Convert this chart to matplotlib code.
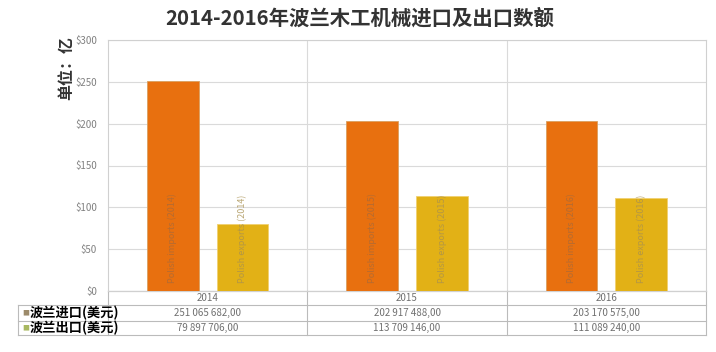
import numpy as np
import matplotlib.pyplot as plt
import matplotlib.transforms as mtransforms

plt.rcParams['font.family'] = ['Noto Sans CJK SC', 'DejaVu Sans']

years = ['2014', '2015', '2016']
imports = [251.07, 202.92, 203.17]
exports = [79.90, 113.71, 111.09]
imports_txt = ['251 065 682,00', '202 917 488,00', '203 170 575,00']
exports_txt = ['79 897 706,00', '113 709 146,00', '111 089 240,00']
row_labels = ['波兰进口(美元)', '波兰出口(美元)']
yticks = [0, 50, 100, 150, 200, 250, 300]

c_imp = '#E8700F'
c_exp = '#E2B116'

fig = plt.figure(figsize=(7.16, 3.52), dpi=100)
ax = fig.add_axes([108/716, 1-291/352, 598/716, 251/352])

x = np.arange(len(years))
w = 0.26
ax.bar(x - 0.175, imports, w, color=c_imp, edgecolor='#D9A060', linewidth=0.6, zorder=3)
ax.bar(x + 0.175, exports, w, color=c_exp, edgecolor='#F0D070', linewidth=0.6, zorder=3)

for i, yr in enumerate(years):
    ax.text(x[i] - 0.175, 9, f'Polish imports ({yr})', rotation=90, ha='center', va='bottom',
            fontsize=6.5, color='#A86A3A', alpha=0.8, zorder=4)
    ax.text(x[i] + 0.175, 9, f'Polish exports ({yr})', rotation=90, ha='center', va='bottom',
            fontsize=6.5, color='#A89050', alpha=0.8, zorder=4)

ax.set_xlim(-0.5, 2.5)
ax.set_ylim(0, 300)
ax.set_yticks(yticks)
ax.set_yticklabels([f'${v}' for v in yticks], fontsize=7, color='#808080')
ax.tick_params(axis='y', length=0, pad=8)
ax.set_xticks([])
ax.grid(axis='y', color='#DADADA', linewidth=0.8, zorder=0)
for b in [0.5, 1.5]:
    ax.axvline(b, color='#DADADA', linewidth=0.8, zorder=1)
for s in ax.spines.values():
    s.set_color('#D0D0D0')
    s.set_linewidth(0.8)

# data table under the plot
tr = mtransforms.blended_transform_factory(ax.transData, ax.transAxes)
h = 251.0
row_y = [0, -14/h, -30/h, -44/h]
lc = '#BBBBBB'
lab_left = -0.5 - 90/598*3  # in data units
for yy in row_y:
    x0 = -0.5 if yy == 0 else lab_left
    ax.plot([x0, 2.5], [yy, yy], color=lc, lw=0.8, transform=tr, clip_on=False)
for xb in [-0.5, 0.5, 1.5, 2.5]:
    ax.plot([xb, xb], [0, row_y[-1]], color=lc, lw=0.8, transform=tr, clip_on=False)
ax.plot([lab_left, lab_left], [row_y[1], row_y[-1]], color=lc, lw=0.8, transform=tr, clip_on=False)

for i, yr in enumerate(years):
    ax.text(x[i], (row_y[0]+row_y[1])/2, yr, ha='center', va='center', fontsize=7,
            color='#707070', transform=tr)
    ax.text(x[i], (row_y[1]+row_y[2])/2, imports_txt[i], ha='center', va='center', fontsize=7,
            color='#707070', transform=tr)
    ax.text(x[i], (row_y[2]+row_y[3])/2, exports_txt[i], ha='center', va='center', fontsize=7,
            color='#707070', transform=tr)

mark_cols = ['#9C8A6A', '#A8B860']
for j, lab in enumerate(row_labels):
    ym = (row_y[j+1]+row_y[j+2])/2
    ax.text(lab_left + 0.02, ym, '■', ha='left', va='center', fontsize=5,
            color=mark_cols[j], transform=tr)
    ax.text(lab_left + 0.06, ym, lab, ha='left', va='center', fontsize=9.5,
            fontweight='bold', color='black', transform=tr)

fig.text(360/716, 1-18/352, '2014-2016年波兰木工机械进口及出口数额', ha='center', va='center',
         fontsize=14.7, fontweight='bold', color='#333333')
fig.text(66/716, 1-36/352, '单位：亿', rotation=90, ha='center', va='top',
         fontsize=11.5, fontweight='bold', color='#333333')

fig.savefig('out.png', dpi=100)
